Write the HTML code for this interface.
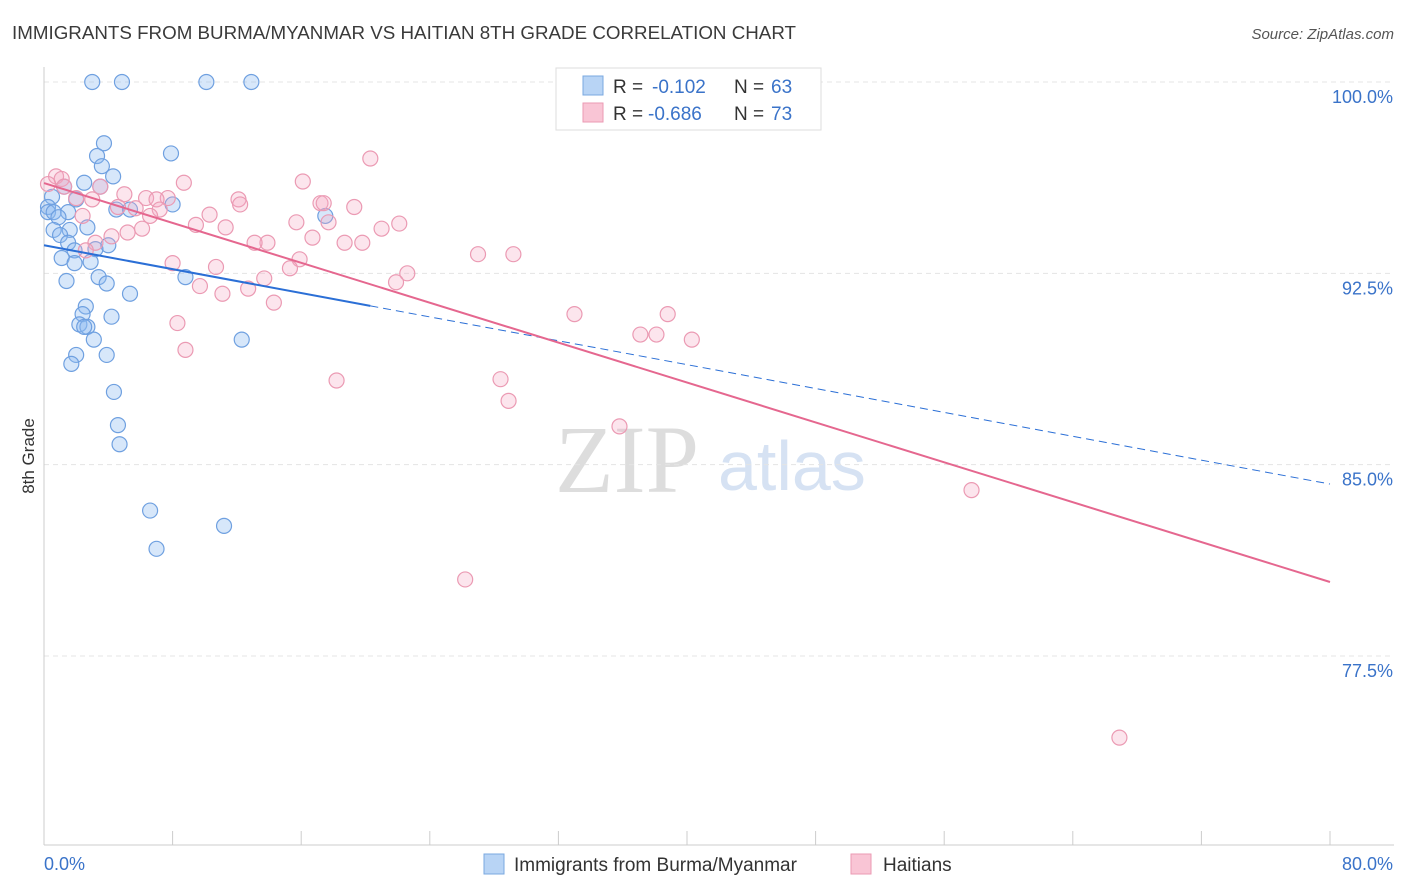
<!DOCTYPE html>
<html><head><meta charset="utf-8"><style>
body{margin:0;background:#fff;font-family:"Liberation Sans",sans-serif}
svg{display:block}
</style></head><body>
<svg width="1406" height="892" id="c">
<text x="12" y="39" font-size="18" fill="#3a3a3a" textLength="784" lengthAdjust="spacingAndGlyphs">IMMIGRANTS FROM BURMA/MYANMAR VS HAITIAN 8TH GRADE CORRELATION CHART</text>
<text x="1394" y="39" font-size="15" fill="#555" font-style="italic" text-anchor="end">Source: ZipAtlas.com</text>
<text x="34" y="456" font-size="17" fill="#333" transform="rotate(-90 34 456)" text-anchor="middle">8th Grade</text>
<text x="555" y="492" font-size="96" fill="#ddd" font-family="Liberation Serif,serif">ZIP</text>
<text x="718" y="490" font-size="70" fill="#d6e2f3">atlas</text>
<g id="grid"></g><g id="axes"></g><g id="pts"></g><g id="trend"></g>
<g>
<rect x="556" y="68" width="265" height="62" fill="#fff" stroke="#ddd"/>
<rect x="583" y="76" width="20" height="19" fill="#b8d4f5" stroke="#7aa8e0"/>
<rect x="583" y="103" width="20" height="19" fill="#f9c5d5" stroke="#eb9ab3"/>
<text y="93" font-size="19" fill="#333"><tspan x="613">R =</tspan><tspan x="652" fill="#3a73c9">-0.102</tspan><tspan x="734">N =</tspan><tspan x="771" fill="#3a73c9">63</tspan></text>
<text y="120" font-size="19" fill="#333"><tspan x="613">R =</tspan><tspan x="648" fill="#3a73c9">-0.686</tspan><tspan x="734">N =</tspan><tspan x="771" fill="#3a73c9">73</tspan></text>
</g>
<g>
<rect x="484" y="854" width="20" height="20" fill="#b8d4f5" stroke="#7aa8e0"/>
<text x="514" y="871" font-size="19" fill="#333">Immigrants from Burma/Myanmar</text>
<rect x="851" y="854" width="20" height="20" fill="#f9c5d5" stroke="#eb9ab3"/>
<text x="883" y="871" font-size="19" fill="#333">Haitians</text>
</g>
</svg>
<script>
const blueX=[3.0,4.85,10.1,12.9,3.73,3.3,7.9,3.6,4.3,2.5,3.5,1.25,0.5,2.0,8.0,0.25,4.5,5.35,0.25,0.6,1.5,0.9,17.5,2.7,1.6,0.6,1.0,1.5,4.0,3.2,1.9,1.1,2.9,1.9,8.8,3.4,1.4,3.9,5.35,2.6,2.4,4.2,2.2,2.7,2.5,3.1,12.3,2.0,3.9,1.7,4.35,4.6,4.7,6.6,11.2,7.0];
const blueY=[100,100,100,100,97.6,97.1,97.2,96.7,96.3,96.05,95.9,95.9,95.5,95.4,95.2,95.1,95.0,95.0,94.9,94.9,94.9,94.7,94.75,94.3,94.2,94.2,94.0,93.7,93.6,93.45,93.4,93.1,92.95,92.9,92.35,92.35,92.2,92.1,91.7,91.2,90.9,90.8,90.5,90.4,90.4,89.9,89.9,89.3,89.3,88.95,87.85,86.55,85.8,83.2,82.6,81.7];
const pinkX=[32.4,20.3,16.1,8.7,0.75,1.1,0.25,1.25,3.5,5.0,2.0,3.0,6.35,7.7,12.1,7.0,4.6,5.7,12.2,17.2,17.4,19.3,7.2,10.3,6.6,2.4,9.45,11.3,15.7,17.7,22.1,21.0,5.2,6.1,4.2,13.9,13.1,16.7,18.7,19.8,3.2,2.6,15.9,15.3,8.0,10.7,13.7,22.6,21.9,9.7,11.1,12.7,14.3,27.0,29.2,33.0,38.8,37.1,38.1,40.3,8.3,8.8,18.2,28.4,28.9,35.8,57.7,26.2,66.9];
const pinkY=[100,97.0,96.1,96.05,96.3,96.2,96.0,95.9,95.9,95.6,95.45,95.4,95.45,95.45,95.4,95.4,95.1,95.05,95.2,95.25,95.25,95.1,95.0,94.8,94.75,94.75,94.4,94.3,94.5,94.5,94.45,94.25,94.1,94.25,93.95,93.7,93.7,93.9,93.7,93.7,93.7,93.4,93.05,92.7,92.9,92.75,92.3,92.5,92.15,92.0,91.7,91.9,91.35,93.25,93.25,90.9,90.9,90.1,90.1,89.9,90.55,89.5,88.3,88.35,87.5,86.5,84.0,80.5,74.3];
const yTicks=[100,92.5,85,77.5];
const yTickLabels=["100.0%","92.5%","85.0%","77.5%"];
const blueTrend=[93.6,84.24], blueSolidEnd=20.3;
const pinkTrend=[96.04,80.4];
const NS='http://www.w3.org/2000/svg';
const sx=v=>44+v/80*1286, sy=v=>82+(100-v)*25.51;
function mk(t,a,p){const e=document.createElementNS(NS,t);for(const k in a)e.setAttribute(k,a[k]);document.getElementById(p).appendChild(e);return e;}
yTicks.forEach((t,i)=>{
 const l=mk('line',{x1:44,x2:1394,y1:sy(t),y2:sy(t),stroke:'#e4e4e4','stroke-dasharray':'5,4'},'grid');
 
 
 const tx=mk('text',{x:1393,y:sy(t)+21,'font-size':18,fill:'#3a73c9','text-anchor':'end'},'grid');
 tx.textContent=yTickLabels[i];
 
 
});
let a=mk('line',{x1:44,x2:44,y1:67,y2:845,stroke:'#ccc'},'axes');


a=mk('line',{x1:44,x2:1394,y1:845,y2:845,stroke:'#ccc'},'axes');


for(let i=0;i<=10;i++){const t=mk('line',{x1:sx(i*8),x2:sx(i*8),y1:831,y2:845,stroke:'#ccc'},'axes');
 
 }
let xl=mk('text',{x:44,y:870,'font-size':18,fill:'#3a73c9'},'axes');xl.textContent='0.0%';


xl=mk('text',{x:1393,y:870,'font-size':18,fill:'#3a73c9','text-anchor':'end'},'axes');xl.textContent='80.0%';


blueX.forEach((x,i)=>{const c=mk('circle',{cx:sx(x),cy:sy(blueY[i]),r:7.5,fill:'rgba(140,185,240,0.35)',stroke:'#6fa0e0','stroke-width':1.2},'pts');
 
 });
pinkX.forEach((x,i)=>{const c=mk('circle',{cx:sx(x),cy:sy(pinkY[i]),r:7.5,fill:'rgba(245,170,195,0.3)',stroke:'#eb9ab3','stroke-width':1.2},'pts');
 
 });
const by=x=>blueTrend[0]+(blueTrend[1]-blueTrend[0])*x/80;
let l=mk('line',{x1:sx(0),y1:sy(blueTrend[0]),x2:sx(blueSolidEnd),y2:sy(by(blueSolidEnd)),stroke:'#2b6fd6','stroke-width':2},'trend');


l=mk('line',{x1:sx(blueSolidEnd),y1:sy(by(blueSolidEnd)),x2:sx(80),y2:sy(blueTrend[1]),stroke:'#2b6fd6','stroke-width':1,'stroke-dasharray':'8,5'},'trend');


l=mk('line',{x1:sx(0),y1:sy(pinkTrend[0]),x2:sx(80),y2:sy(pinkTrend[1]),stroke:'#e5678f','stroke-width':2},'trend');


</script>
</body></html>
